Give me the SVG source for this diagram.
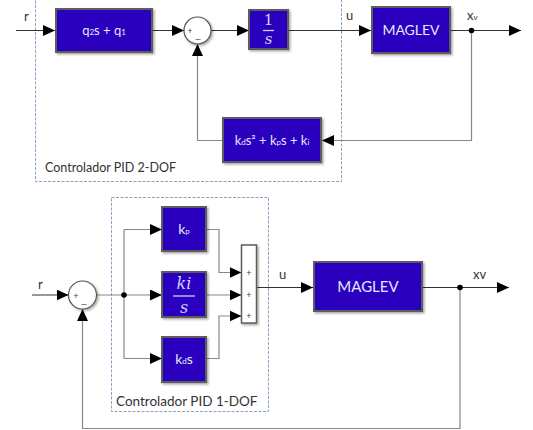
<svg xmlns="http://www.w3.org/2000/svg" width="533" height="430" viewBox="0 0 533 430">
<defs>
<marker id="ah" markerUnits="userSpaceOnUse" markerWidth="13" markerHeight="11" refX="12" refY="5.5" orient="auto">
<path d="M0,0 L12,5.5 L0,11 Z" fill="#000"/>
</marker>
<filter id="sh" x="-10%" y="-10%" width="130%" height="130%">
<feDropShadow dx="1.5" dy="1.5" stdDeviation="1" flood-color="#000" flood-opacity="0.35"/>
</filter>
</defs>
<style>
.blk{fill:#2A00BE;stroke:#5c5c5c;stroke-width:2;filter:url(#sh)}
.bar{fill:#fff;stroke:#5c5c5c;stroke-width:1.5;filter:url(#sh)}
.sum{fill:#fff;stroke:#555;stroke-width:1.2;filter:url(#sh)}
.bt{font-family:Lato,"Liberation Sans",sans-serif;font-size:13px;font-weight:normal;fill:#E6E6FF;text-anchor:middle}
.mt{font-family:"DejaVu Serif","Liberation Serif",serif;font-style:italic;fill:#D0D0FF;text-anchor:middle}
.lbl{font-family:Lato,"Liberation Sans",sans-serif;font-size:13px;fill:#333}
.sg{font-family:"Liberation Sans",sans-serif;font-size:9px;fill:#444}
.w{fill:none;stroke:#333;stroke-width:1}
.g{fill:none;stroke:#888;stroke-width:1.2}
.dash{fill:none;stroke:#8aa0c4;stroke-width:1;stroke-dasharray:3,1.5}
</style>

<rect class="dash" x="35.5" y="-0.5" width="306" height="182"/>
<rect class="dash" x="111.5" y="197.5" width="157" height="214"/>
<text class="lbl" x="45" y="172" style="font-size:12.5px">Controlador PID 2-DOF</text>
<text class="lbl" x="116" y="406" style="font-size:13.5px">Controlador PID 1-DOF</text>

<g id="connectors">
<path class="w" d="M16,30.5 H55" marker-end="url(#ah)"/>
<path class="w" d="M152,30.5 H184" marker-end="url(#ah)"/>
<path class="w" d="M211,30.5 H249" marker-end="url(#ah)"/>
<path class="w" d="M288,30.5 H371" marker-end="url(#ah)"/>
<path class="w" d="M450,30.5 H521" marker-end="url(#ah)"/>
<path class="g" d="M471.5,30.5 V140.5 H322" marker-end="url(#ah)"/>
<path class="g" d="M223,140.5 H197.5 V44" marker-end="url(#ah)"/>

<path class="w" d="M32,295 H68.5" marker-end="url(#ah)"/>
<path class="g" d="M96.5,295 H162" marker-end="url(#ah)"/>
<path class="g" d="M124,229.5 V358.5"/>
<path class="g" d="M124,229.5 H162" marker-end="url(#ah)"/>
<path class="g" d="M124,358.5 H162" marker-end="url(#ah)"/>
<path class="g" d="M206,229.5 H219 V272.5 H241.5" marker-end="url(#ah)"/>
<path class="g" d="M206,295 H241.5" marker-end="url(#ah)"/>
<path class="g" d="M206,358.5 H219 V316 H241.5" marker-end="url(#ah)"/>
<path class="w" d="M256.5,287.5 H313" marker-end="url(#ah)"/>
<path class="w" d="M422,287.5 H509" marker-end="url(#ah)"/>
<path class="g" d="M460,287.5 V428.5 H82.5 V309" marker-end="url(#ah)"/>
<circle cx="471.5" cy="30.5" r="2.8" fill="#000"/>
<circle cx="124" cy="295" r="2.8" fill="#000"/>
<circle cx="460" cy="287.5" r="2.8" fill="#000"/>
</g>

<text class="lbl" x="24" y="21">r</text>
<text class="lbl" x="346" y="20">u</text>
<text class="lbl" x="467" y="20">x<tspan font-size="8">v</tspan></text>
<text class="lbl" x="38" y="289">r</text>
<text class="lbl" x="279" y="279">u</text>
<text class="lbl" x="473" y="279">xv</text>

<g id="q">
<rect class="blk" x="56" y="9" width="96" height="43"/>
<text class="bt" x="104" y="35">q<tspan font-size="8">2</tspan>s + q<tspan font-size="8">1</tspan></text>
</g>
<g id="sum1">
<circle class="sum" cx="197.5" cy="30.5" r="13.5"/>
<text class="sg" x="190" y="34" text-anchor="middle">+</text>
<text class="sg" x="198" y="38" text-anchor="middle">_</text>
</g>
<g id="int">
<rect class="blk" x="249" y="10" width="39" height="39"/>
<text class="mt" x="268.5" y="25" style="font-size:15px;font-style:normal">1</text>
<line x1="263" y1="30.5" x2="274" y2="30.5" stroke="#D0D0FF" stroke-width="1.3"/>
<text class="mt" x="268.5" y="44" style="font-size:15px">s</text>
</g>
<g id="maglev1">
<rect class="blk" x="372" y="7" width="78" height="46"/>
<text class="bt" x="411" y="35" style="font-size:14px">MAGLEV</text>
</g>
<g id="fb">
<rect class="blk" x="223" y="118" width="98" height="44"/>
<text class="bt" x="272" y="145">k<tspan font-size="8">d</tspan>s² + k<tspan font-size="8">p</tspan>s + k<tspan font-size="8">i</tspan></text>
</g>

<g id="sum2">
<circle class="sum" cx="82.5" cy="295" r="14"/>
<text class="sg" x="76" y="298.5" text-anchor="middle">+</text>
<text class="sg" x="84" y="302.5" text-anchor="middle">_</text>
</g>
<g id="kp">
<rect class="blk" x="162" y="207" width="44" height="44"/>
<text class="bt" x="184" y="234" style="font-size:14px">k<tspan font-size="8">p</tspan></text>
</g>
<g id="ki">
<rect class="blk" x="162" y="272" width="44" height="45"/>
<text class="mt" x="184" y="289" style="font-size:16px">ki</text>
<line x1="173" y1="296" x2="195" y2="296" stroke="#D0D0FF" stroke-width="1.3"/>
<text class="mt" x="184" y="313" style="font-size:16px">s</text>
</g>
<g id="kd">
<rect class="blk" x="162" y="337" width="44" height="45"/>
<text class="bt" x="184" y="364" style="font-size:14px">k<tspan font-size="8">d</tspan>s</text>
</g>
<g id="sumbar">
<rect class="bar" x="241.5" y="245" width="15" height="78"/>
<text class="sg" x="249" y="276" text-anchor="middle">+</text>
<text class="sg" x="249" y="298" text-anchor="middle">+</text>
<text class="sg" x="249" y="319" text-anchor="middle">+</text>
</g>
<g id="maglev2">
<rect class="blk" x="314" y="262" width="108" height="49"/>
<text class="bt" x="368" y="292" style="font-size:15px">MAGLEV</text>
</g>
</svg>
